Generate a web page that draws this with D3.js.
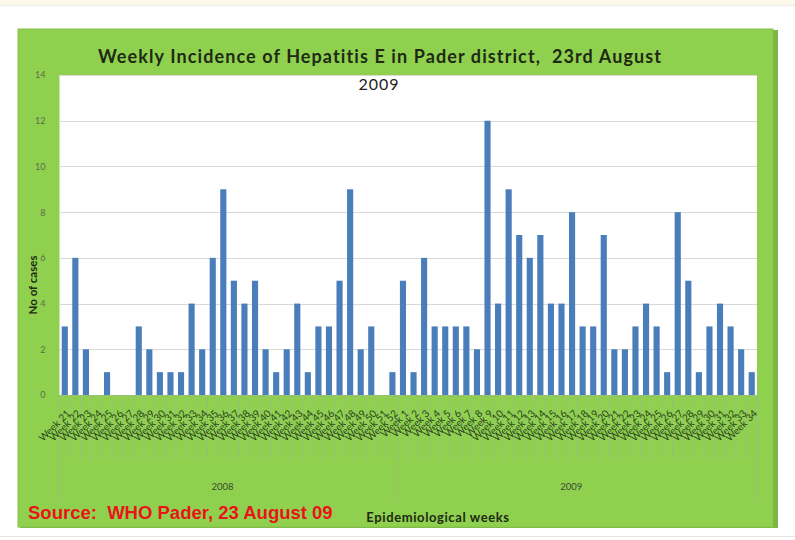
<!DOCTYPE html>
<html><head><meta charset="utf-8">
<script src="https://cdn.jsdelivr.net/npm/d3@7"></script>
<style>body{margin:0;background:#fff;} svg{display:block;} text{white-space:pre;}</style>
</head><body><svg id="c" width="795" height="540"></svg>
<script>
// ---- data ----
const years = ["2008", "2009"];
const weeks2008 = ["21","22","23","24","25","26","27","28","29","30","31","32","33","34","35","36","37","38","39","40","41","42","43","44","45","46","47","48","49","50","51","52"];
const weeks2009 = ["1","2","3","4","5","6","7","8","9","10","11","12","13","14","15","16","17","18","19","20","21","22","23","24","25","26","27","28","29","30","31","32","33","34"];
const cases2008 = [3,6,2,0,1,0,0,3,2,1,1,1,4,2,6,9,5,4,5,2,1,2,4,1,3,3,5,9,2,3,0,1];
const cases2009 = [5,1,6,3,3,3,3,2,12,4,9,7,6,7,4,4,8,3,3,7,2,2,3,4,3,1,8,5,1,3,4,3,2,1];
const yTicks = [0,2,4,6,8,10,12,14];

const rows = [];
weeks2008.forEach((w,i)=>rows.push({id:"2008-"+w, week:w, year:"2008", v:cases2008[i]}));
weeks2009.forEach((w,i)=>rows.push({id:"2009-"+w, week:w, year:"2009", v:cases2009[i]}));

const svg = d3.select("#c");
// top decorative strip
svg.append("rect").attr("x",0).attr("y",0).attr("width",795).attr("height",5).attr("fill","#fdf9e8");
svg.append("line").attr("x1",0).attr("x2",795).attr("y1",5.5).attr("y2",5.5).attr("stroke","#eee");
// bottom line
svg.append("line").attr("x1",0).attr("x2",795).attr("y1",536.5).attr("y2",536.5).attr("stroke","#e4e4e4");

// green panel
svg.append("rect").attr("x",20).attr("y",30).attr("width",758).attr("height",498).attr("fill","#7fb546");
svg.append("rect").attr("x",18).attr("y",29).attr("width",755).attr("height",498).attr("fill","#8fd14f").attr("stroke","#84c149").attr("stroke-width",1);

const L = 59.5, R = 757, T = 75, B = 395;
svg.append("rect").attr("x",L).attr("y",T).attr("width",R-L).attr("height",B-T).attr("fill","#fff");

const x = d3.scaleBand().domain(rows.map(d=>d.id)).range([L,R]).paddingInner(0.42).paddingOuter(0.21);
const y = d3.scaleLinear().domain([0,14]).range([B,T]);

// gridlines
svg.append("g").selectAll("line").data(yTicks.filter(t=>t>0)).join("line")
  .attr("x1",L).attr("x2",R).attr("y1",d=>Math.round(y(d))+0.5).attr("y2",d=>Math.round(y(d))+0.5)
  .attr("stroke","#d9d9d9").attr("stroke-width",1.2);

// y axis labels
const yAxis = d3.axisLeft(y).tickValues(yTicks).tickSize(0).tickPadding(0);
const gy = svg.append("g").attr("transform",`translate(${L-14},0)`).call(yAxis);
gy.select(".domain").remove();
gy.selectAll("text").attr("font-family","Lato, sans-serif").attr("font-size",9).attr("fill","#5a6b4a");

// bars
svg.append("g").selectAll("rect").data(rows).join("rect")
  .attr("x",d=>x(d.id)).attr("width",x.bandwidth())
  .attr("y",d=>y(d.v)).attr("height",d=>y(0)-y(d.v))
  .attr("fill","#4a7ebb");

// category tick lines between categories
const step = x.step();
const x0 = x(rows[0].id) - x.paddingOuter()*step;
const bounds = d3.range(rows.length+1).map(i=>x0 + i*step);
svg.append("g").selectAll("line").data(bounds).join("line")
  .attr("x1",d=>d).attr("x2",d=>d).attr("y1",B).attr("y2",460)
  .attr("stroke","#9dbd7d").attr("stroke-width",1);
// year dividers
const yearBounds = [0, weeks2008.length, rows.length].map(i=>x0 + i*step);
svg.append("g").selectAll("line").data(yearBounds).join("line")
  .attr("x1",d=>d).attr("x2",d=>d).attr("y1",B).attr("y2",502)
  .attr("stroke","#9dbd7d").attr("stroke-width",1);

// week labels
const xAxis = d3.axisBottom(x).tickSize(0).tickFormat(id=>"Week "+rows.find(r=>r.id===id).week);
const gx = svg.append("g").attr("transform",`translate(0,${B})`).call(xAxis);
gx.select(".domain").remove();
gx.selectAll("text").attr("font-family","Lato, sans-serif").attr("font-size",10).attr("fill","#28421a")
  .attr("text-anchor","end").attr("dy",0).attr("dx",0)
  .attr("transform","translate(4,17) rotate(-45)");

// year labels
svg.append("g").selectAll("text").data(years).join("text")
  .attr("x",(d,i)=>(yearBounds[i]+yearBounds[i+1])/2 - 6).attr("y",490)
  .attr("text-anchor","middle").attr("font-family","Lato, sans-serif").attr("font-size",9.5).attr("fill","#3c4a30")
  .text(d=>d);

// axis baseline
svg.append("line").attr("x1",L).attr("x2",R).attr("y1",B+0.5).attr("y2",B+0.5).attr("stroke","#9dbd7d");

// titles
svg.append("text").attr("x",380).attr("y",63).attr("text-anchor","middle")
  .attr("font-family","Lato, sans-serif").attr("font-weight","bold").attr("font-size",18).attr("letter-spacing",1.1).attr("fill","#1e2a14")
  .text("Weekly Incidence of Hepatitis E in Pader district,  23rd August");
svg.append("text").attr("x",379).attr("y",90).attr("text-anchor","middle")
  .attr("font-family","Lato, sans-serif").attr("font-size",16).attr("letter-spacing",1).attr("fill","#222")
  .text("2009");
svg.append("text").attr("transform","translate(37,285) rotate(-90)").attr("text-anchor","middle")
  .attr("font-family","Lato, sans-serif").attr("font-weight","bold").attr("font-size",11.5).attr("fill","#1e2a14")
  .text("No of cases");
svg.append("text").attr("x",438).attr("y",522).attr("text-anchor","middle")
  .attr("font-family","Lato, sans-serif").attr("font-weight","bold").attr("font-size",13).attr("letter-spacing",0.6).attr("fill","#1e2a14")
  .text("Epidemiological weeks");
svg.append("text").attr("x",28).attr("y",519)
  .attr("font-family","'Liberation Sans', Arial, sans-serif").attr("font-weight","bold").attr("font-size",18.5).attr("fill","#e8141a")
  .text("Source:  WHO Pader, 23 August 09");
</script></body></html>
